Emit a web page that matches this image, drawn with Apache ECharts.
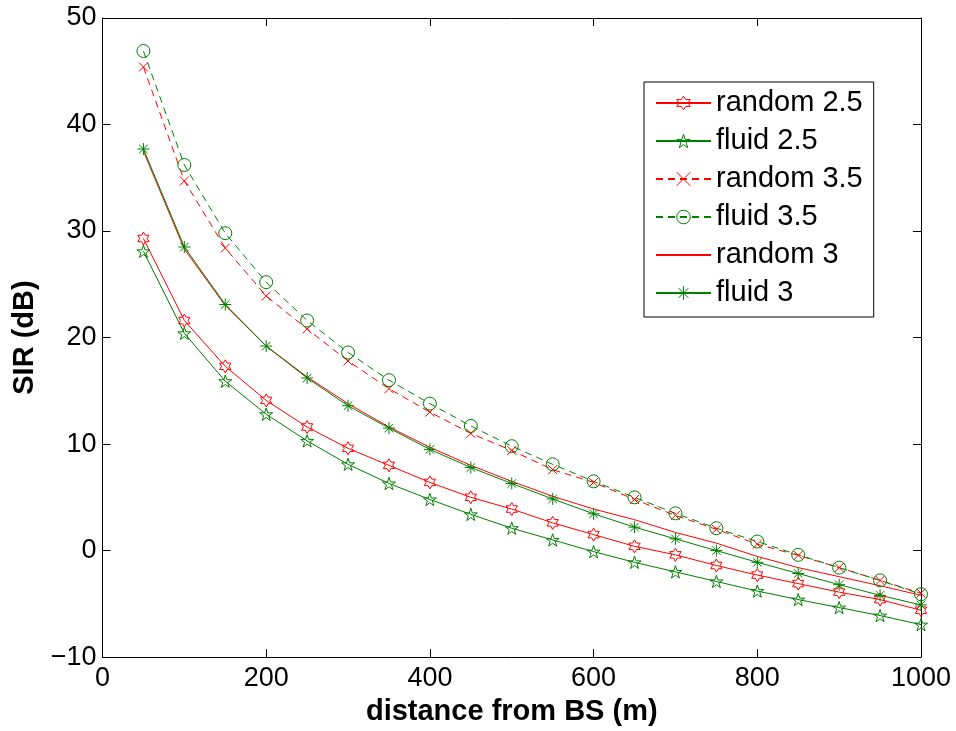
<!DOCTYPE html>
<html>
<head>
<meta charset="utf-8">
<script src="https://cdn.jsdelivr.net/npm/echarts@6/dist/echarts.min.js"></script>
<style>
html,body{margin:0;padding:0;background:#fff;}
#chart{width:956px;height:731px;}
</style>
</head>
<body>
<div id="chart"></div>
<script>
// ---- data ----
var distance = [50,100,150,200,250,300,350,400,450,500,550,600,650,700,750,800,850,900,950,1000];
var random25 = [29.3,21.6,17.3,14.1,11.6,9.6,8.0,6.4,5.0,3.9,2.6,1.5,0.4,-0.4,-1.4,-2.3,-3.1,-3.9,-4.6,-5.6];
var fluid25  = [28.1,20.4,15.9,12.8,10.3,8.1,6.3,4.8,3.4,2.1,1.0,-0.1,-1.1,-2.0,-2.9,-3.8,-4.6,-5.35,-6.1,-6.95];
var random35 = [45.4,34.7,28.4,23.9,20.8,17.8,15.2,13.0,11.0,9.4,7.6,6.4,4.8,3.3,2.0,0.6,-0.45,-1.6,-2.8,-4.0];
var fluid35  = [46.9,36.2,29.8,25.2,21.6,18.6,16.0,13.8,11.7,9.8,8.1,6.5,5.0,3.5,2.1,0.85,-0.4,-1.6,-2.8,-4.1];
var random3  = [37.5,28.3,23.0,19.2,16.3,13.8,11.6,9.7,8.0,6.5,5.1,3.9,2.9,1.7,0.7,-0.55,-1.6,-2.45,-3.3,-4.2];
var fluid3   = [37.7,28.5,23.1,19.2,16.2,13.6,11.5,9.5,7.8,6.3,4.85,3.45,2.2,1.1,0.0,-1.1,-2.15,-3.2,-4.2,-5.1];
var seriesNames = ['random 2.5','fluid 2.5','random 3.5','fluid 3.5','random 3','fluid 3'];
var xTicks = [0,200,400,600,800,1000];
var yTicks = [-10,0,10,20,30,40,50];

function pairs(vals){ return distance.map(function(x,i){ return [x, vals[i]]; }); }

var RED = '#ff0000', GREEN = '#008000';
var FONT = 'Liberation Sans';
var hexagram = 'path://M0,-10 L2.887,-5 L8.66,-5 L5.774,0 L8.66,5 L2.887,5 L0,10 L-2.887,5 L-8.66,5 L-5.774,0 L-8.66,-5 L-2.887,-5 Z';
var pentagram = 'path://M0,-10 L2.245,-3.09 L9.511,-3.09 L3.633,1.18 L5.878,8.09 L0,3.82 L-5.878,8.09 L-3.633,1.18 L-9.511,-3.09 L-2.245,-3.09 Z';
var xmark = 'path://M0,0 L10,10 M10,0 L0,10';
var asterisk = 'path://M5,0 L5,10 M0,5 L10,5 M1.46,1.46 L8.54,8.54 M8.54,1.46 L1.46,8.54';
var colors = [RED, GREEN, RED, GREEN, RED, GREEN];

function mk(name, vals, color, symbol, size, dashed){
  return {
    name: name, type: 'line', data: pairs(vals),
    symbol: symbol, symbolSize: size, symbolKeepAspect: true, showAllSymbol: true,
    animation: false, silent: true,
    lineStyle: { color: color, width: 1, type: dashed ? [7,5] : 'solid' },
    itemStyle: { color: 'rgba(0,0,0,0)', borderColor: color, borderWidth: 1 }
  };
}

var legendData = seriesNames.map(function(n, i){
  var hidden = (i === 4);
  return {
    name: n,
    itemStyle: { color: 'rgba(0,0,0,0)', borderColor: hidden ? 'rgba(0,0,0,0)' : colors[i], borderWidth: 1 }
  };
});

var chart = echarts.init(document.getElementById('chart'), null, {renderer:'canvas'});
function axisCommon(){
  return {
    axisLine: { show: true, onZero: false, lineStyle: { color: '#000', width: 1 } },
    axisTick: { show: true, inside: true, length: 8, lineStyle: { color: '#000', width: 1 } },
    splitLine: { show: false }
  };
}
chart.setOption({
  backgroundColor: '#fff',
  animation: false,
  grid: { left: 102.5, top: 18, right: 35, bottom: 69, containLabel: false },
  legend: {
    orient: 'vertical', left: 644, top: 82,
    data: legendData,
    backgroundColor: '#fff', borderColor: '#000', borderWidth: 1,
    padding: [6, 11, 9, 11],
    itemWidth: 55, itemHeight: 17, itemGap: 8,
    textStyle: { fontFamily: FONT, fontSize: 29, color: '#000', lineHeight: 30 }
  },
  xAxis: [
    Object.assign({ type: 'value', min: 0, max: 1000, interval: 200, position: 'bottom',
      name: 'distance from BS (m)', nameLocation: 'middle', nameGap: 30,
      nameTextStyle: { fontFamily: FONT, fontSize: 29, fontWeight: 'bold', color: '#000' },
      axisLabel: { fontFamily: FONT, fontSize: 27, color: '#000', margin: 8,
        formatter: function(v){ return xTicks.indexOf(v) >= 0 ? String(v) : ''; } } }, axisCommon()),
    Object.assign({ type: 'value', min: 0, max: 1000, interval: 200, position: 'top',
      axisLabel: { show: false } }, axisCommon())
  ],
  yAxis: [
    Object.assign({ type: 'value', min: -10, max: 50, interval: 10, position: 'left',
      name: 'SIR (dB)', nameLocation: 'middle', nameGap: 58,
      nameTextStyle: { fontFamily: FONT, fontSize: 29, fontWeight: 'bold', color: '#000' },
      axisLabel: { fontFamily: FONT, fontSize: 27, color: '#000', margin: 6,
        formatter: function(v){ return yTicks.indexOf(v) >= 0 ? String(v).replace('-', '\u2212') : ''; } } }, axisCommon()),
    Object.assign({ type: 'value', min: -10, max: 50, interval: 10, position: 'right',
      axisLabel: { show: false } }, axisCommon())
  ],
  series: [
    mk(seriesNames[0], random25, RED, hexagram, 13, false),
    mk(seriesNames[1], fluid25, GREEN, pentagram, 13, false),
    mk(seriesNames[2], random35, RED, xmark, 9, true),
    mk(seriesNames[3], fluid35, GREEN, 'circle', 13, true),
    mk(seriesNames[4], random3, RED, 'none', 1, false),
    mk(seriesNames[5], fluid3, GREEN, asterisk, 12, false)
  ]
});
</script>
</body>
</html>
